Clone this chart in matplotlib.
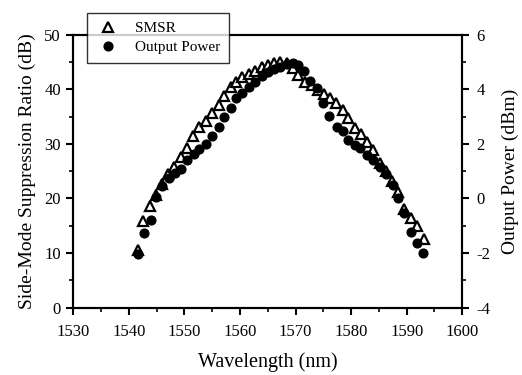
import matplotlib
matplotlib.use("Agg")
import matplotlib.pyplot as plt
from matplotlib.ticker import MultipleLocator

plt.rcParams['font.family'] = ['Liberation Serif', 'DejaVu Serif']
plt.rcParams['axes.unicode_minus'] = False

smsr_wl = [1541.6, 1542.6, 1543.8, 1544.9, 1545.9, 1547.0, 1548.1, 1549.3, 1550.5,
           1551.6, 1552.7, 1553.8, 1555.0, 1556.2, 1557.2, 1558.3, 1559.3, 1560.4,
           1561.7, 1562.7, 1563.9, 1565.0, 1566.1, 1567.2, 1568.4, 1569.5, 1570.5,
           1571.7, 1572.9, 1574.0, 1575.2, 1576.2, 1577.3, 1578.5, 1579.5, 1580.7,
           1581.8, 1582.9, 1584.0, 1585.2, 1586.3, 1587.4, 1588.5, 1589.5, 1590.7,
           1591.9, 1593.1]
smsr_db = [10.6, 15.9, 18.6, 20.6, 22.6, 24.5, 25.8, 27.6, 29.3,
           31.5, 33.1, 34.3, 35.6, 37.2, 38.8, 40.5, 41.4, 42.2,
           42.8, 43.4, 44.2, 44.5, 44.9, 45.1, 44.8, 43.9, 42.7,
           41.4, 40.8, 39.9, 39.1, 38.4, 37.5, 36.2, 34.7, 32.9,
           31.8, 30.4, 28.9, 26.6, 25.0, 23.3, 21.2, 18.0, 16.4,
           15.0, 12.5]

pow_wl = [1541.6, 1542.7, 1543.9, 1544.8, 1546.0, 1547.2, 1548.3, 1549.4, 1550.5,
          1551.7, 1552.7, 1553.9, 1555.0, 1556.2, 1557.2, 1558.3, 1559.3, 1560.4,
          1561.7, 1562.7, 1563.9, 1565.0, 1566.1, 1567.2, 1568.4, 1569.5, 1570.5,
          1571.6, 1572.6, 1573.8, 1574.9, 1576.1, 1577.4, 1578.5, 1579.5, 1580.7,
          1581.6, 1582.9, 1584.0, 1585.2, 1586.3, 1587.6, 1588.4, 1589.6, 1590.8,
          1591.9, 1592.9]
pow_dbm = [-2.04, -1.28, -0.78, 0.06, 0.46, 0.74, 0.92, 1.10, 1.42,
           1.62, 1.80, 2.00, 2.30, 2.62, 3.00, 3.32, 3.68, 3.88,
           4.10, 4.28, 4.50, 4.66, 4.74, 4.84, 4.94, 4.96, 4.90,
           4.68, 4.32, 4.04, 3.52, 3.02, 2.62, 2.46, 2.14, 1.98,
           1.86, 1.60, 1.42, 1.16, 0.90, 0.50, 0.02, -0.54, -1.22,
           -1.64, -2.00]

fig = plt.figure(figsize=(5.22, 3.75), dpi=100)
ax = fig.add_axes([0.1404, 0.18, 0.7452, 0.7267])
ax2 = ax.twinx()

h1, = ax.plot(smsr_wl, smsr_db, linestyle='none', marker='^', markersize=6.5,
              markerfacecolor='white', markeredgecolor='black', markeredgewidth=1.6,
              label='SMSR', zorder=3)
h2, = ax2.plot(pow_wl, pow_dbm, linestyle='none', marker='o', markersize=6.3,
               markerfacecolor='black', markeredgecolor='black',
               label='Output Power', zorder=3)

ax.set_xlim(1530, 1600)
ax.set_ylim(0, 50)
ax2.set_ylim(-4, 6)

ax.xaxis.set_major_locator(MultipleLocator(10))
ax.xaxis.set_minor_locator(MultipleLocator(5))
ax.yaxis.set_major_locator(MultipleLocator(10))
ax.yaxis.set_minor_locator(MultipleLocator(5))
ax2.yaxis.set_major_locator(MultipleLocator(2))
ax2.yaxis.set_minor_locator(MultipleLocator(1))

for a in (ax, ax2):
    for s in a.spines.values():
        s.set_linewidth(1.5)
ax.tick_params(axis='x', which='major', direction='out', length=5, width=1.5,
               labelsize=12, top=False, pad=7)
ax.tick_params(axis='y', which='major', direction='out', length=5, width=1.5,
               labelsize=12, pad=4)
ax.tick_params(axis='both', which='minor', direction='out', length=3, width=1.2, top=False)
ax2.tick_params(axis='y', which='major', direction='out', length=5, width=1.5,
                labelsize=12, pad=5)
ax2.tick_params(axis='y', which='minor', direction='out', length=3, width=1.2)

ax.set_xlabel('Wavelength (nm)', fontsize=14.5, labelpad=9)
ax.set_ylabel('Side-Mode Suppression Ratio (dB)', fontsize=14, labelpad=6)
ax2.set_ylabel('Output Power (dBm)', fontsize=14, labelpad=8)

leg = fig.legend([h1, h2], ['SMSR', 'Output Power'], loc='upper left',
                 bbox_to_anchor=(87 / 522, 1 - 13 / 375), fontsize=11,
                 frameon=True, fancybox=False, edgecolor='black',
                 handletextpad=1.0, borderpad=0.55, labelspacing=0.35,
                 handlelength=1.6, borderaxespad=0)
leg.get_frame().set_linewidth(1.0)

fig.savefig('out.png', dpi=100)
